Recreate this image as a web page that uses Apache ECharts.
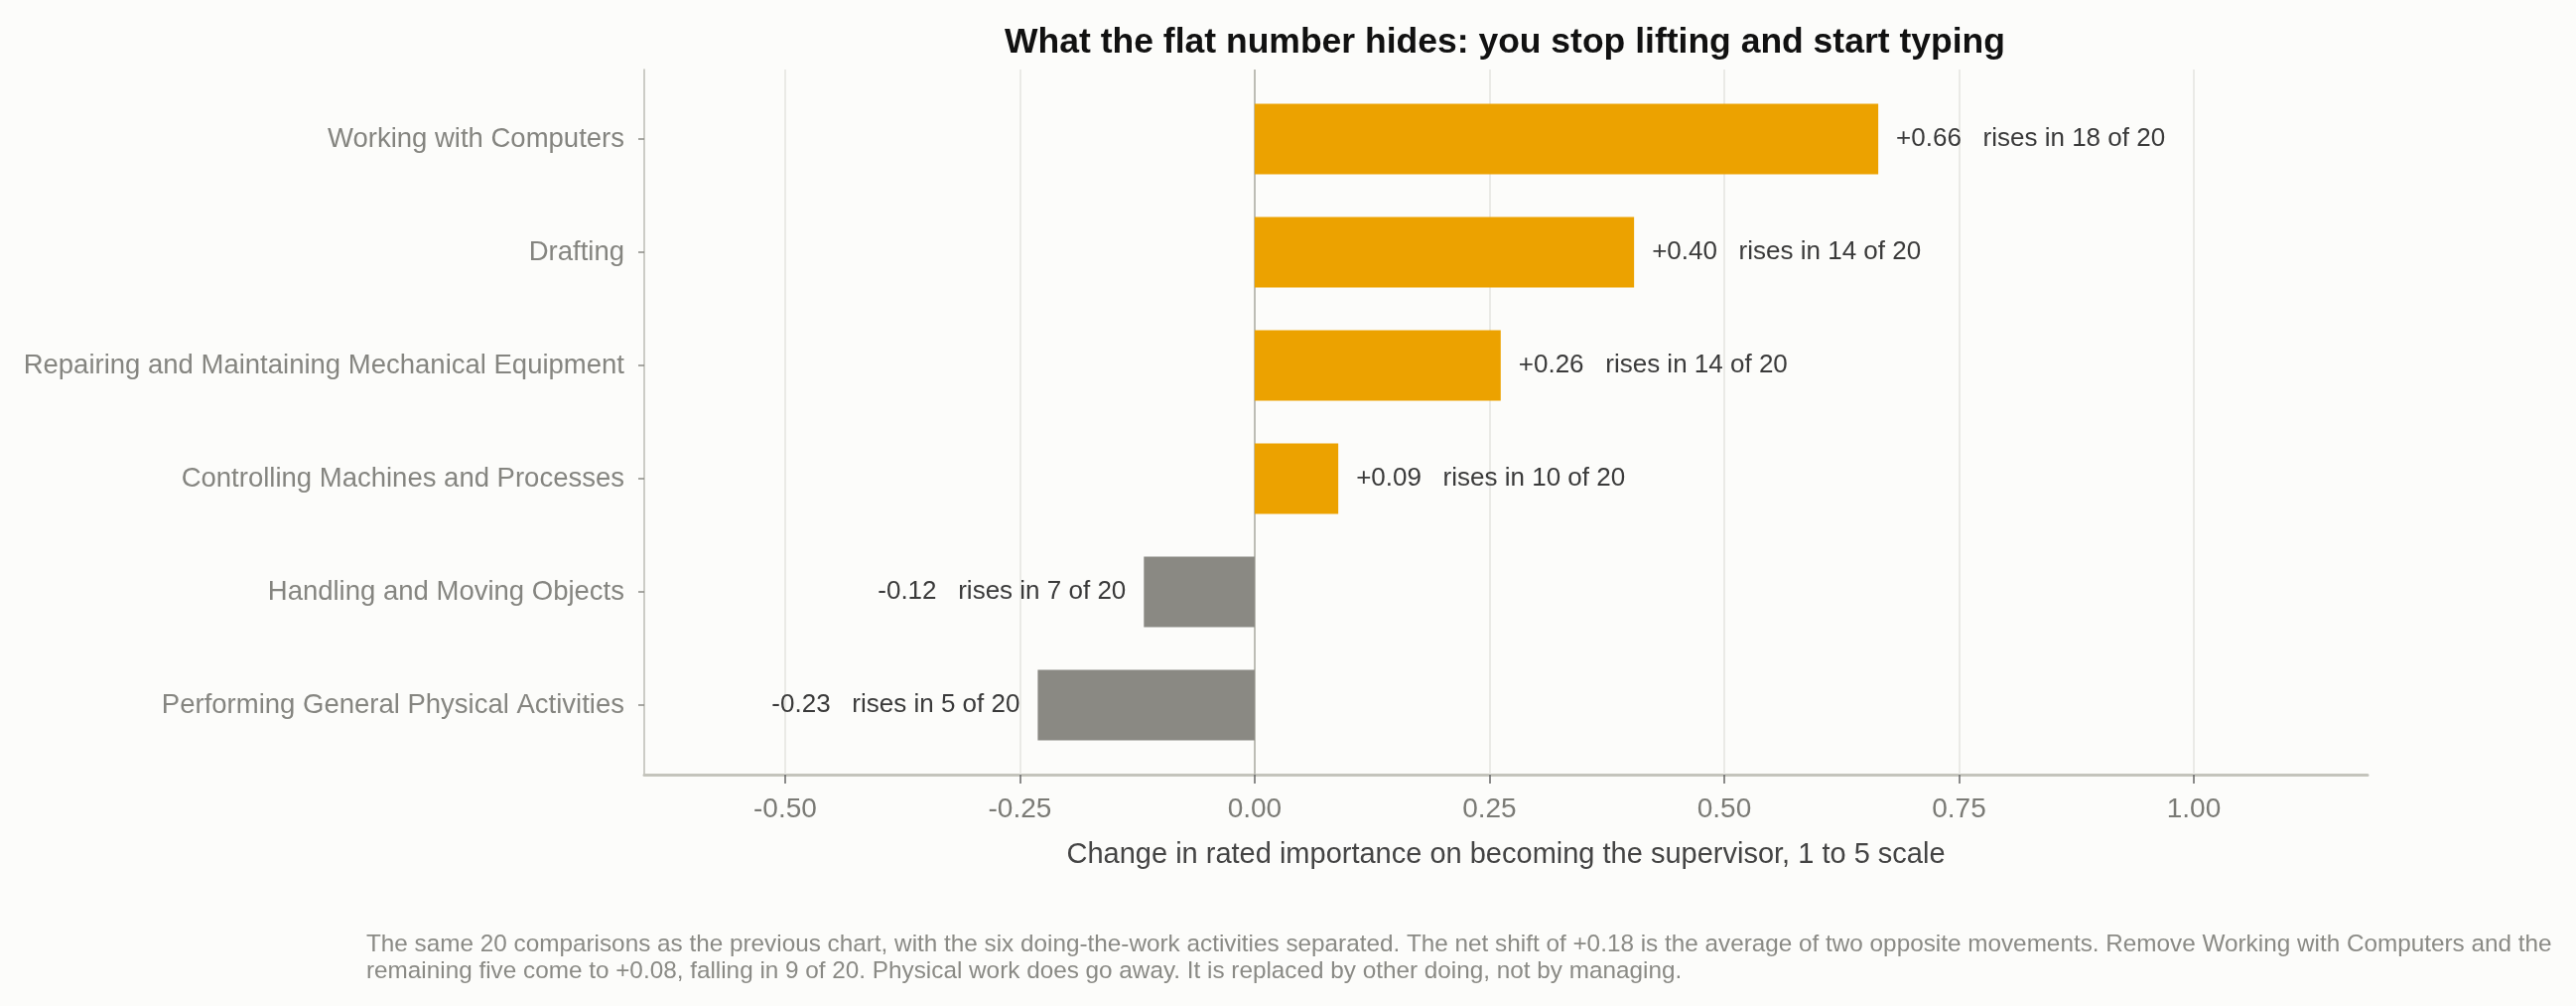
<!DOCTYPE html>
<html>
<head>
<meta charset="utf-8">
<script src="https://cdn.jsdelivr.net/npm/echarts@6/dist/echarts.min.js"></script>
<style>
  html, body { margin: 0; padding: 0; background: #fcfcfa; }
  #chart { width: 2595px; height: 1013px; }
</style>
</head>
<body>
<div id="chart"></div>
<script>
// activities, top to bottom
const categories = [
  'Working with Computers',
  'Drafting',
  'Repairing and Maintaining Mechanical Equipment',
  'Controlling Machines and Processes',
  'Handling and Moving Objects',
  'Performing General Physical Activities'
];
const changes = [0.664, 0.404, 0.262, 0.089, -0.118, -0.231];
const risesIn = [18, 14, 14, 10, 7, 5];
const totalComparisons = 20;
const tickValues = [-0.5, -0.25, 0, 0.25, 0.5, 0.75, 1.0];
const xMin = -0.65, xMax = 1.185;

const titleText = 'What the flat number hides: you stop lifting and start typing';
const xName = 'Change in rated importance on becoming the supervisor, 1 to 5 scale';
const note = 'The same 20 comparisons as the previous chart, with the six doing-the-work activities separated. The net shift of +0.18 is the average of two opposite movements. Remove Working with Computers and the\nremaining five come to +0.08, falling in 9 of 20. Physical work does go away. It is replaced by other doing, not by managing.';

const FONT = '"Liberation Sans", Arial, sans-serif';
const UP = '#eca200', DOWN = '#8a8983';

window.onload = function () {
  var chart = echarts.init(document.getElementById('chart'));

  const fmt = (v) => (v > 0 ? '+' : '') + v.toFixed(2);

  const barData = changes.map((v, i) => ({
    value: v,
    itemStyle: { color: v >= 0 ? UP : DOWN },
    label: { position: v >= 0 ? 'right' : 'left' }
  }));

  var option = {
    backgroundColor: '#fcfcfa',
    animation: false,
    textStyle: { fontFamily: FONT },
    title: {
      text: titleText,
      left: 1516,
      top: 25,
      padding: 0,
      textAlign: 'center',
      textStyle: { fontFamily: FONT, fontSize: 35.5, fontWeight: 'bold', color: '#111' }
    },
    grid: [
      // frame: axis lines, ticks, gridlines
      { left: 649, right: 210, top: 70, bottom: 233 },
      // bars, inset so category bands sit inside the frame
      { left: 649, right: 210, top: 83, bottom: 246 }
    ],
    xAxis: [
      {
        gridIndex: 0,
        type: 'value',
        min: xMin,
        max: xMax,
        name: xName,
        nameLocation: 'middle',
        nameGap: 66,
        nameTextStyle: { fontFamily: FONT, fontSize: 29, color: '#444' },
        axisLine: { show: true, onZero: false, lineStyle: { color: '#c4c4bc', width: 3 } },
        axisTick: { show: true, customValues: tickValues, length: 9, lineStyle: { color: '#666', width: 1.5 } },
        axisLabel: {
          customValues: tickValues,
          margin: 21,
          fontSize: 28,
          color: '#7a7a75',
          fontFamily: FONT,
          formatter: (v) => v.toFixed(2)
        },
        splitLine: { show: false }
      },
      {
        gridIndex: 1,
        type: 'value',
        min: xMin,
        max: xMax,
        show: false
      }
    ],
    yAxis: [
      {
        gridIndex: 0,
        type: 'value',
        min: 0,
        max: 1,
        axisLine: { show: true, onZero: false, lineStyle: { color: '#bdbdb5', width: 1.5 } },
        axisTick: { show: false },
        axisLabel: { show: false },
        splitLine: { show: false }
      },
      {
        gridIndex: 1,
        type: 'category',
        inverse: true,
        data: categories,
        axisLine: { show: false, onZero: false },
        axisTick: { show: true, alignWithLabel: true, length: 6, lineStyle: { color: '#8a8a85', width: 1.5 } },
        axisLabel: { margin: 20, fontSize: 27.5, color: '#858580', fontFamily: FONT },
        splitLine: { show: false }
      }
    ],
    series: [
      {
        name: 'frame',
        type: 'line',
        xAxisIndex: 0,
        yAxisIndex: 0,
        z: 0,
        data: [],
        silent: true,
        markLine: {
          silent: true,
          symbol: 'none',
          label: { show: false },
          data: tickValues.map((t) => ({
            xAxis: t,
            lineStyle: t === 0
              ? { color: '#bdbdb5', width: 2, type: 'solid' }
              : { color: '#e4e4df', width: 1.5, type: 'solid' }
          }))
        }
      },
      {
        name: 'change',
        type: 'bar',
        xAxisIndex: 1,
        yAxisIndex: 1,
        z: 5,
        barWidth: 71,
        data: barData,
        label: {
          show: true,
          distance: 18,
          fontSize: 26,
          color: '#3a3a3a',
          fontFamily: FONT,
          formatter: (p) => fmt(p.value) + '   rises in ' + risesIn[p.dataIndex] + ' of ' + totalComparisons
        }
      }
    ],
    graphic: [
      {
        type: 'text',
        left: 369,
        top: 938,
        style: {
          text: note,
          font: '24.3px ' + FONT,
          fill: '#8a8a85',
          lineHeight: 27
        }
      }
    ]
  };

  chart.setOption(option);
};
</script>
</body>
</html>
